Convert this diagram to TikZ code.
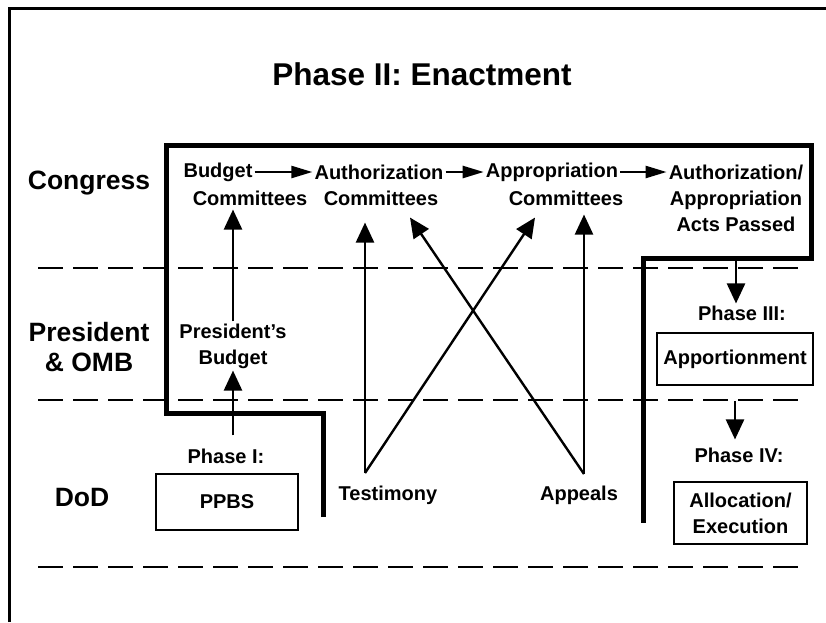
\documentclass[tikz,border=0pt]{standalone}
\usepackage{fontspec}
\setmainfont{Liberation Sans}
\usetikzlibrary{arrows.meta}
\begin{document}
\begin{tikzpicture}[x=1pt,y=-1pt,
  txt/.style={font=\fontsize{20}{26}\selectfont\bfseries, inner sep=2pt, align=center},
  rowlbl/.style={font=\fontsize{26.5}{30}\selectfont\bfseries, inner sep=2pt, align=center},
  titlelbl/.style={font=\fontsize{31.5}{36}\selectfont\bfseries, inner sep=2pt},
  boxnode/.style={txt, draw, line width=2.8pt},
  outline/.style={line width=5pt, line join=miter},
  frameline/.style={line width=3pt},
  dashline/.style={line width=2.4pt, dash pattern=on 25pt off 10pt},
  arr/.style={line width=2.4pt, -{Triangle[length=20pt,width=18pt]}},
  harr/.style={line width=2.4pt, -{Triangle[length=21pt,width=12pt]}}
]
\useasboundingbox (0,0) rectangle (826,622);

% frame (left and top)
\draw[frameline] (9,622) -- (9,8) -- (826,8);

% Congress outline
\draw[outline] (323,517) -- (323,413) -- (166,413) -- (166,145) -- (811,145)
  -- (811,258) -- (643,258) -- (643,523);

% dashed separators
\foreach \yy in {268,400,567} \draw[dashline] (38,\yy) -- (800,\yy);

% title and row labels
\node[titlelbl] (title) at (422,74) {Phase II: Enactment};
\node[rowlbl] (cong) at (89,183) {Congress};
\node[rowlbl] (pomb) at (89,347) {President\\\& OMB};
\node[rowlbl] (dod) at (82,498) {DoD};

% Congress row
\node[txt] (bud1) at (218,172) {Budget};
\node[txt] (bud2) at (250,198) {Committees};
\node[txt] (aut1) at (379,172) {Authorization};
\node[txt] (aut2) at (381,198) {Committees};
\node[txt] (app1) at (552,172) {Appropriation};
\node[txt] (app2) at (566,198) {Committees};
\node[txt] (acts) at (736,198) {Authorization/\\Appropriation\\Acts Passed};

% President row
\node[txt] (pb) at (233,346) {President’s\\Budget};
\node[txt] (ph3) at (742,313) {Phase III:};
\node[boxnode, minimum width=156pt, minimum height=52pt] (appo) at (735,359) {Apportionment};

% DoD row
\node[txt] (ph1) at (226,456) {Phase I:};
\node[boxnode, minimum width=142pt, minimum height=56pt] (ppbs) at (227,502) {PPBS};
\node[txt] (testi) at (388,495) {Testimony};
\node[txt] (appe) at (579,495) {Appeals};
\node[txt] (ph4) at (739,455) {Phase IV:};
\node[boxnode, minimum width=133pt, minimum height=62pt] (alloc) at (740.5,513) {Allocation/\\Execution};

\coordinate (tv) at (365,473);
\coordinate (av) at (584,474);

% horizontal flow in Congress
\draw[harr] (bud1.east) -- (aut1.west);
\draw[harr] (aut1.east) -- (app1.west);
\draw[harr] (app1.east) -- (app1.east -| acts.west);

% Phase I -> President's Budget -> Budget Committees
\draw[arr, shorten <=11pt] (ph1.north -| pb.south) -- (pb.south);
\draw[arr] (pb.north) -- ([yshift=-2pt]pb.north |- bud2.south);

% Testimony and Appeals
\draw[arr, shorten >=15pt] (tv) -- (tv |- aut2.south);
\draw[arr] (tv) -- ([xshift=-31pt,yshift=-10pt]app2.south);
\draw[arr] (av) -- ([xshift=29pt,yshift=-10pt]aut2.south);
\draw[arr, shorten >=7pt] (av) -- (av |- app2.south);

% Phase III and IV
\draw[arr, shorten <=24pt] (acts.south) -- (acts.south |- ph3.north);
\draw[arr, shorten <=15pt, shorten >=6pt] (appo.south) -- (appo.south |- ph4.north);
\end{tikzpicture}
\end{document}
